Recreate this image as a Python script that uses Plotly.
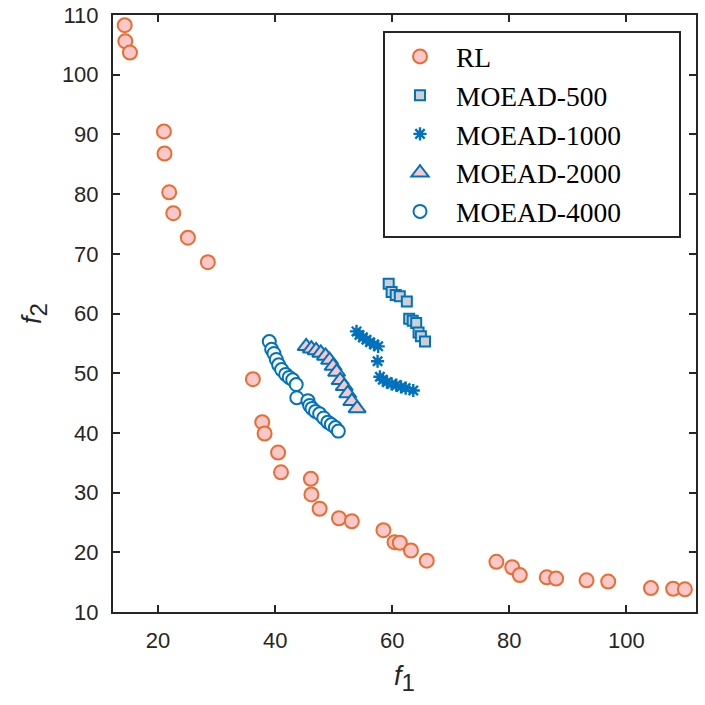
import plotly.graph_objects as go

# RL
rl_x = [14.3, 14.4, 15.2, 21.0, 21.1, 21.9, 22.6, 25.1, 28.5, 36.2, 37.8, 38.2, 40.5, 41.0,
        46.1, 46.2, 47.6, 50.9, 53.1, 58.5, 60.4, 61.3, 63.2, 65.9, 77.8, 80.5, 81.8,
        86.4, 88.0, 93.2, 96.9, 104.2, 108.0, 110.0]
rl_y = [108.3, 105.6, 103.7, 90.5, 86.8, 80.3, 76.8, 72.7, 68.6, 49.0, 41.8, 39.9, 36.7, 33.4,
        32.3, 29.7, 27.3, 25.7, 25.2, 23.7, 21.7, 21.6, 20.3, 18.6, 18.4, 17.5, 16.2,
        15.8, 15.6, 15.3, 15.1, 14.0, 13.9, 13.8]

# MOEAD-500
m500_x = [59.4, 59.9, 60.6, 61.3, 62.5, 62.9, 63.5, 64.1, 64.5, 64.9, 65.6]
m500_y = [65.0, 63.6, 63.1, 62.9, 62.0, 59.1, 58.8, 58.4, 56.8, 56.2, 55.3]

# MOEAD-1000
m1000_x = [53.9, 54.4, 55.0, 55.6, 56.2, 56.9, 57.6, 57.5, 57.9, 58.4, 59.1, 59.9, 60.7,
           61.5, 62.3, 63.6]
m1000_y = [57.0, 56.4, 56.0, 55.6, 55.2, 54.8, 54.5, 52.0, 49.4, 48.9, 48.5, 48.2, 48.0,
           47.7, 47.5, 47.1]

# MOEAD-2000
m2000_x = [45.3, 46.2, 47.0, 47.8, 48.6, 49.3, 49.9, 50.5, 51.1, 51.8, 52.4, 53.1, 54.0]
m2000_y = [54.5, 54.1, 53.8, 53.4, 52.9, 52.2, 51.2, 50.2, 48.8, 47.8, 46.6, 45.3, 44.1]

# MOEAD-4000
m4000_x = [39.0, 39.4, 39.8, 40.2, 40.6, 41.1, 41.8, 42.4, 43.0, 43.6, 43.7, 45.6, 45.9,
           46.3, 46.9, 47.6, 48.3, 49.0, 49.6, 50.3, 50.8]
m4000_y = [55.3, 54.0, 53.3, 52.3, 51.4, 50.6, 49.8, 49.3, 48.9, 48.1, 45.9, 45.4, 44.6,
           44.1, 43.6, 43.2, 42.5, 41.8, 41.4, 40.9, 40.3]

x_ticks = [20, 40, 60, 80, 100]
y_ticks = [10, 20, 30, 40, 50, 60, 70, 80, 90, 100, 110]

ORANGE = "#EC6B2D"
PINK = "#F8C8CB"
BLUE = "#0072BD"
AX = "#262626"

fig = go.Figure()
fig.add_trace(go.Scatter(x=rl_x, y=rl_y, mode="markers", name="RL",
                         marker=dict(symbol="circle", size=14, color=PINK,
                                     line=dict(color=ORANGE, width=2))))
fig.add_trace(go.Scatter(x=m500_x, y=m500_y, mode="markers", name="MOEAD-500",
                         marker=dict(symbol="square", size=10, color="#CFCFD2",
                                     line=dict(color=BLUE, width=2))))
fig.add_trace(go.Scatter(x=m1000_x, y=m1000_y, mode="markers", name="MOEAD-1000",
                         marker=dict(symbol="asterisk-open", size=11, color=BLUE,
                                     line=dict(color=BLUE, width=2.4))))
fig.add_trace(go.Scatter(x=m2000_x, y=m2000_y, mode="markers", name="MOEAD-2000",
                         marker=dict(symbol="triangle-up", size=15, color=PINK,
                                     line=dict(color=BLUE, width=2))))
fig.add_trace(go.Scatter(x=m4000_x, y=m4000_y, mode="markers", name="MOEAD-4000",
                         marker=dict(symbol="circle", size=13, color="white",
                                     line=dict(color=BLUE, width=2))))

axis_common = dict(showline=True, linecolor=AX, linewidth=2, mirror="ticks",
                   ticks="inside", ticklen=7, tickwidth=2, tickcolor=AX,
                   showgrid=False, zeroline=False, automargin=False,
                   tickfont=dict(family="Liberation Sans, Arial", size=22, color=AX))

# plot area in pixels: x 113..696, y 15..612 (height 597, width 583)
PW, PH = 583.0, 597.0
SUB = "<sub><span style='font-size:24px'>%s</span></sub>"

fig.update_layout(
    width=705, height=705,
    margin=dict(l=113, r=9, t=15, b=93),
    plot_bgcolor="white", paper_bgcolor="white",
    xaxis=dict(range=[12.3, 111.9], tickvals=x_ticks, ticktext=[str(v) for v in x_ticks],
               ticklabelstandoff=8, **axis_common),
    yaxis=dict(range=[10, 110], tickvals=y_ticks, ticktext=[str(v) for v in y_ticks],
               ticklabelstandoff=8,
               title=dict(text="<i>f</i>" + SUB % "2", standoff=12,
                          font=dict(family="Liberation Sans, Arial", size=27, color=AX)),
               **axis_common),
    legend=dict(x=(384 - 113) / PW, y=(612 - 32) / PH, xanchor="left", yanchor="top",
                bgcolor="rgba(0,0,0,0)", borderwidth=0,
                font=dict(family="Liberation Serif, Times New Roman", size=27.5, color="black"),
                itemwidth=62, tracegroupgap=0),
    shapes=[dict(type="rect", xref="paper", yref="paper", layer="above",
                 x0=(384 - 113) / PW, x1=(680 - 113) / PW,
                 y0=(612 - 237) / PH, y1=(612 - 32) / PH,
                 fillcolor="white", line=dict(color=AX, width=2))],
    annotations=[dict(text="<i>f</i>" + SUB % "1", xref="paper", yref="paper",
                      x=0.5, y=(612 - 678) / PH, xanchor="center", yanchor="middle",
                      showarrow=False,
                      font=dict(family="Liberation Sans, Arial", size=27, color=AX))],
    showlegend=True,
)

fig.write_html("out.html")
